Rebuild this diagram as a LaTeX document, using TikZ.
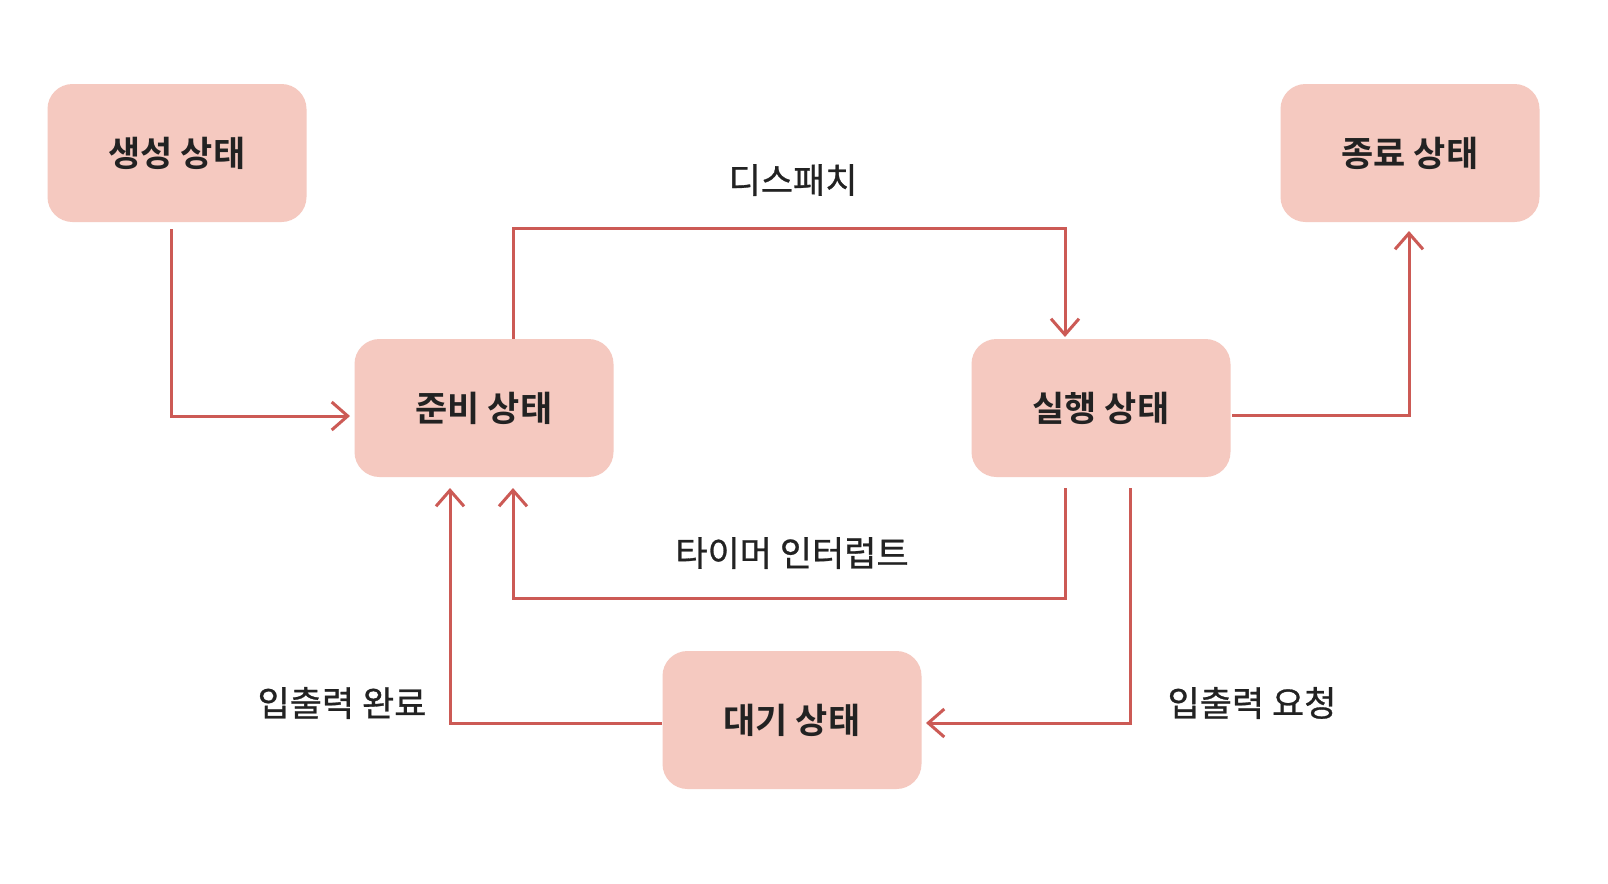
\documentclass[tikz,border=0pt]{standalone}
\usepackage{fontspec}
\setmainfont{Noto Sans CJK KR}[BoldFont={Noto Sans CJK KR Bold}]
\newfontfamily\lblfont{Noto Sans CJK KR}[FakeBold=0.8]
\usetikzlibrary{arrows.meta}
\definecolor{boxfill}{HTML}{F5C9C0}
\definecolor{linec}{HTML}{CC5A55}
\definecolor{txt}{HTML}{222222}
\tikzset{
  state/.style={rectangle, rounded corners=12.5pt, fill=boxfill, draw=none,
    minimum width=129.5pt, minimum height=69pt, inner sep=0pt,
    font=\fontsize{17.5}{19}\selectfont\bfseries, text=txt},
  lbl/.style={font=\lblfont\fontsize{17.5}{19}\selectfont, text=txt, inner sep=0pt},
  conn/.style={draw=linec, line width=1.5pt,
    -{Straight Barb[length=8pt, width=14pt, line width=1.5pt]}}
}
\begin{document}
\begin{tikzpicture}[x=0.5pt, y=-0.5pt]
\useasboundingbox (0,0) rectangle (1608,884);
\fill[white] (0,0) rectangle (1608,884);

\node[state] (create) at (177,153) {생성 상태};
\node[state] (term)   at (1410,153) {종료 상태};
\node[state] (ready)  at (484,408) {준비 상태};
\node[state] (exec)   at (1101,408) {실행 상태};
\node[state] (wait)   at (792,720) {대기 상태};

% helper coordinates
\coordinate (a1) at (171,229);
\coordinate (a2) at (350,416);
\coordinate (d1) at (513,228);
\coordinate (d2) at (1065,337);
\coordinate (t1) at (1409,231);
\coordinate (t2) at (1232,415);
\coordinate (i1) at (1065,488);
\coordinate (i2) at (513,488);
\coordinate (i3) at (1065,598);
\coordinate (r1) at (1130,488);
\coordinate (r2) at (926,723);
\coordinate (w1) at (662,723);
\coordinate (w2) at (450,488);

% create -> ready
\draw[conn] (a1) |- (a2);
% ready -> exec (dispatch)
\draw[conn] (ready.north -| d1) -- (d1) -| (d2);
% exec -> terminate
\draw[conn] (t2) -| (t1);
% exec -> ready (timer interrupt)
\draw[conn] (i1) |- (i3 -| i2) -- (i2);
% exec -> wait (I/O request)
\draw[conn] (r1) |- (r2);
% wait -> ready (I/O done)
\draw[conn] (w1) -| (w2);

\node[lbl] (l1) at (793,180) {디스패치};
\node[lbl] (l2) at (792,553) {타이머 인터럽트};
\node[lbl] (l3) at (1252,703) {입출력 요청};
\node[lbl] (l4) at (342,703) {입출력 완료};
\end{tikzpicture}
\end{document}
